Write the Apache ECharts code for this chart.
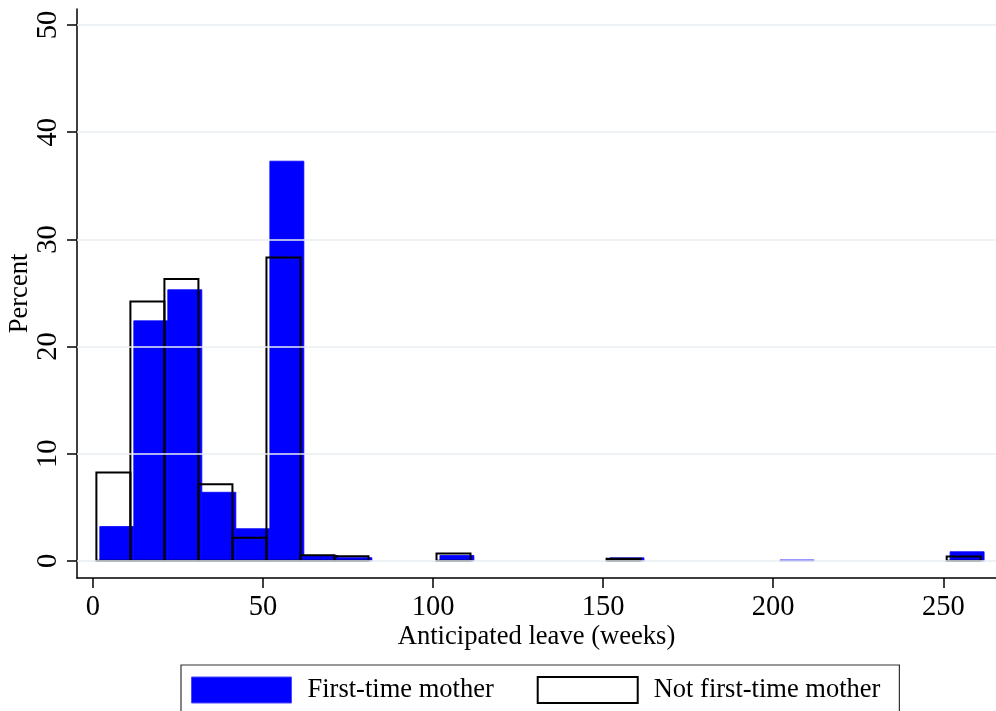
<!DOCTYPE html>
<html>
<head>
<meta charset="utf-8">
<script src="https://cdn.jsdelivr.net/npm/echarts@6/dist/echarts.min.js"></script>
<style>
html,body{margin:0;padding:0;background:#fff;}
#chart{width:996px;height:711px;}
</style>
</head>
<body>
<div id="chart"></div>
<script>
// Histogram bins (weeks): width 10
const binWidth = 10;
const firstStart = 2;   // First-time mother bins start
const otherStart = 1;   // Not first-time mother bins start
// Percent per bin (26 bins each)
const firstPct = [3.2, 22.4, 25.3, 6.4, 3.0, 37.3, 0.5, 0.3, 0, 0, 0.5, 0, 0, 0, 0, 0.28, 0, 0, 0, 0, 0.08, 0, 0, 0, 0, 0.85];
const otherPct = [8.25, 24.2, 26.3, 7.15, 2.15, 28.3, 0.53, 0.44, 0, 0, 0.68, 0, 0, 0, 0, 0.2, 0, 0, 0, 0, 0, 0, 0, 0, 0, 0.4];
const xTicks = [0, 50, 100, 150, 200, 250];
const yTicks = [0, 10, 20, 30, 40, 50];
const seriesNames = ['First-time mother', 'Not first-time mother'];

const FONT = 'Liberation Serif';

function toData(start, arr) {
  const out = [];
  arr.forEach((v, i) => { if (v > 0) out.push([start + i * binWidth, v]); });
  return out;
}

function makeRender(fill, stroke, lw) {
  return function (params, api) {
    const x0 = api.value(0);
    const v = api.value(1);
    const p0 = api.coord([x0, v]);
    const p1 = api.coord([x0 + binWidth, 0]);
    return {
      type: 'rect',
      shape: { x: p0[0], y: p0[1], width: p1[0] - p0[0], height: p1[1] - p0[1] },
      style: { fill: fill, stroke: stroke, lineWidth: lw }
    };
  };
}

const chart = echarts.init(document.getElementById('chart'));
chart.setOption({
  animation: false,
  backgroundColor: '#ffffff',
  grid: { left: 77, right: 0, top: 9, bottom: 133, containLabel: false, outerBoundsMode: 'none' },
  xAxis: {
    type: 'value', min: -4.7, max: 265.5,
    name: 'Anticipated leave (weeks)', nameLocation: 'middle', nameGap: 46, nameMoveOverlap: false,
    nameTextStyle: { fontFamily: FONT, fontSize: 26.6, color: '#000' },
    axisLine: { show: true, onZero: false, lineStyle: { color: '#000', width: 1.5 } },
    axisTick: { show: true, length: 10, customValues: xTicks, lineStyle: { color: '#000', width: 1.5 } },
    axisLabel: { customValues: xTicks, fontFamily: FONT, fontSize: 28.5, color: '#000', margin: 15 },
    splitLine: { show: false }
  },
  yAxis: {
    type: 'value', min: -1.6, max: 51.5,
    name: 'Percent', nameLocation: 'middle', nameGap: 43, nameRotate: 90, nameMoveOverlap: false,
    nameTextStyle: { fontFamily: FONT, fontSize: 26.6, color: '#000' },
    axisLine: { show: true, onZero: false, lineStyle: { color: '#000', width: 1.5 } },
    axisTick: { show: true, length: 10, customValues: yTicks, lineStyle: { color: '#000', width: 1.5 } },
    axisLabel: { customValues: yTicks, rotate: 90, fontFamily: FONT, fontSize: 28.5, color: '#000', margin: 14 },
    splitLine: { show: false }
  },
  legend: {
    left: 181, top: 665,
    orient: 'horizontal',
    itemWidth: 100, itemHeight: 26, itemGap: 43,
    padding: [11, 19, 11, 10],
    borderColor: '#333', borderWidth: 1.2,
    textStyle: { fontFamily: FONT, fontSize: 26.5, color: '#000', padding: [0, 0, 0, 11] },
    data: [
      { name: seriesNames[0], icon: 'rect', itemStyle: { color: '#0000ff', borderColor: '#4a4aff', borderWidth: 1 } },
      { name: seriesNames[1], icon: 'rect', itemStyle: { color: '#ffffff', borderColor: '#000', borderWidth: 2 } }
    ]
  },
  series: [
    {
      name: 'grid', type: 'line', data: [], silent: true,
      markLine: {
        silent: true, symbol: 'none', label: { show: false },
        lineStyle: { color: '#e8eef1', width: 1.6, type: 'solid' },
        data: yTicks.map(v => ({ yAxis: v }))
      }
    },
    {
      name: seriesNames[0], type: 'custom', renderItem: makeRender('#0000ff', '#0000ff', 0.8),
      encode: { x: 0, y: 1 }, data: toData(firstStart, firstPct), itemStyle: { color: '#0000ff' }, z: 3
    },
    {
      name: seriesNames[1], type: 'custom', renderItem: makeRender('none', '#000000', 2),
      encode: { x: 0, y: 1 }, data: toData(otherStart, otherPct), itemStyle: { color: '#ffffff', borderColor: '#000' }, z: 4
    }
  ]
});
</script>
</body>
</html>
